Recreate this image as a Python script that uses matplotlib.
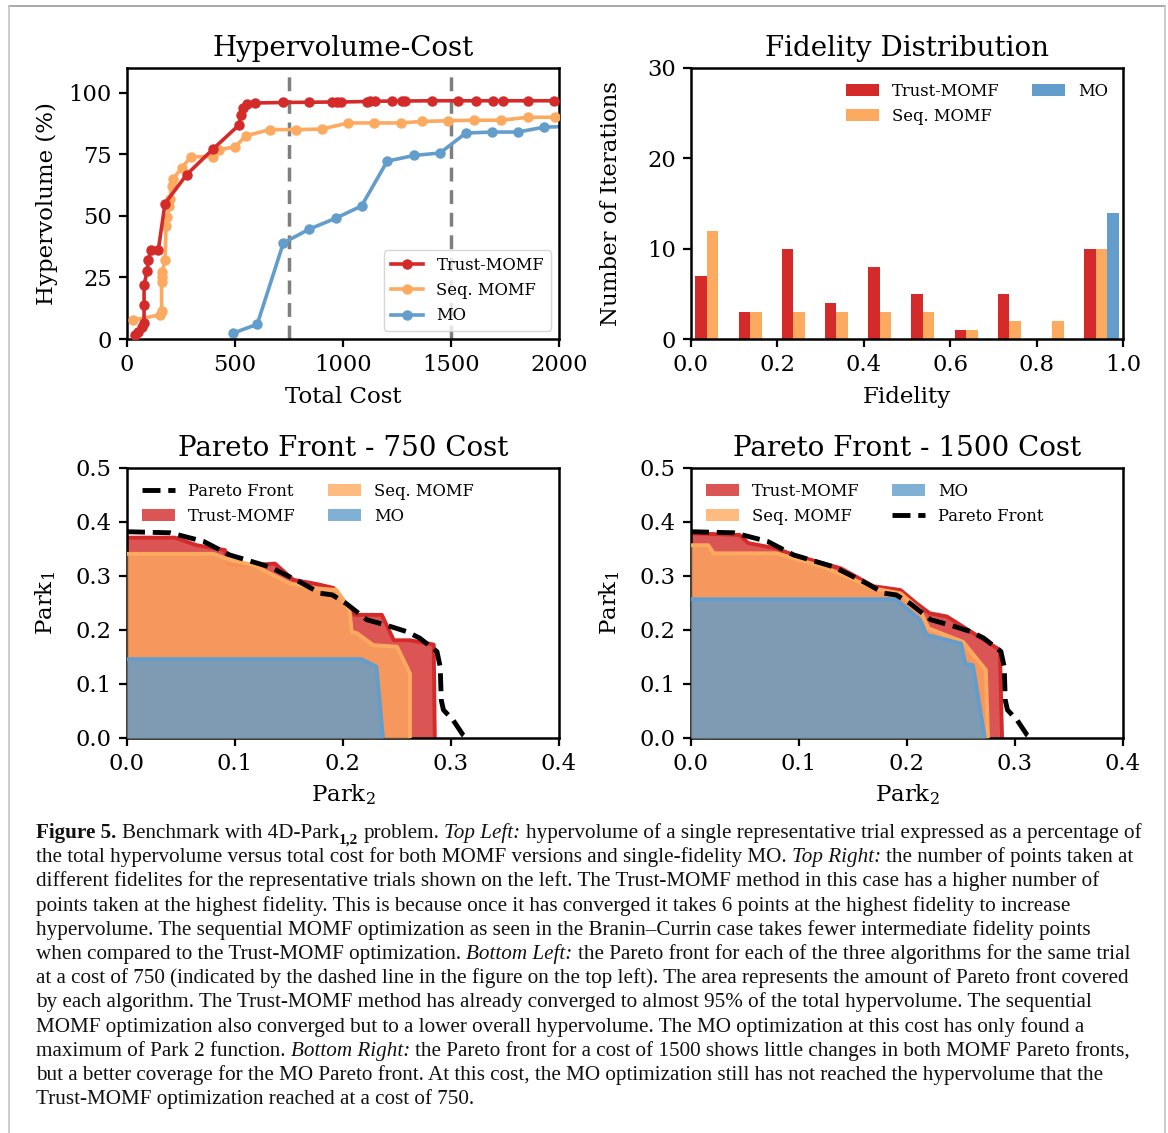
import matplotlib
matplotlib.use('Agg')
import matplotlib.pyplot as plt
from matplotlib.lines import Line2D
import numpy as np

plt.rcParams['font.family'] = 'DejaVu Serif'
plt.rcParams['mathtext.fontset'] = 'dejavuserif'

# ---------------- data ----------------
RED = '#d42a2a'
ORANGE = '#fdaa61'
BLUE = '#629dcb'

trust_cost = [37, 52, 68, 79, 79, 79, 94, 99, 110, 145, 176, 276, 397, 520, 526, 536, 554, 593,
              724, 844, 948, 971, 989, 1109, 1125, 1148, 1225, 1272, 1287, 1414, 1534, 1616,
              1693, 1739, 1858, 1977]
trust_hv = [1.6, 3.0, 5.0, 6.5, 13.8, 22.0, 27.8, 32.0, 36.0, 36.2, 55.0, 66.7, 77.0, 87.0, 91.0,
            93.8, 95.5, 95.8, 96.0, 96.1, 96.2, 96.2, 96.2, 96.4, 96.5, 96.5, 96.6, 96.6, 96.6,
            96.7, 96.7, 96.7, 96.7, 96.7, 96.7, 96.7]

seq_cost = [29, 153, 160, 160, 160, 163, 176, 181, 187, 194, 199, 207, 214, 253, 296, 397, 427,
            500, 551, 662, 783, 901, 1025, 1145, 1267, 1364, 1488, 1608, 1731, 1858, 1981]
seq_hv = [7.7, 9.8, 11.5, 23.3, 25.0, 27.0, 32.0, 46.0, 49.7, 53.8, 57.0, 62.0, 65.0, 69.4, 74.0,
          74.0, 76.8, 78.0, 82.5, 85.0, 85.0, 85.2, 87.7, 87.7, 87.7, 88.3, 88.6, 88.8, 88.8,
          90.0, 90.0]

mo_cost = [489, 603, 724, 844, 966, 1086, 1205, 1329, 1449, 1569, 1690, 1810, 1931, 2052]
mo_hv = [2.3, 6.0, 39.0, 44.6, 49.0, 54.0, 72.2, 74.5, 75.5, 83.6, 84.0, 84.0, 86.0, 86.3]

cost_marks = [750, 1500]

fid_bins = [0.0, 0.1, 0.2, 0.3, 0.4, 0.5, 0.6, 0.7, 0.8, 0.9, 1.0]
fid_trust = [7, 3, 10, 4, 8, 5, 1, 5, 0, 10]
fid_seq = [12, 3, 3, 3, 3, 3, 1, 2, 2, 10]
fid_mo = [0, 0, 0, 0, 0, 0, 0, 0, 0, 14]

pf_x = [0.0, 0.04, 0.071, 0.095, 0.132, 0.16, 0.179, 0.19, 0.203, 0.222, 0.24, 0.259, 0.271,
        0.287, 0.29, 0.291, 0.293, 0.302, 0.311, 0.315]
pf_y = [0.382, 0.38, 0.364, 0.339, 0.317, 0.289, 0.268, 0.265, 0.249, 0.219, 0.209, 0.197,
        0.185, 0.16, 0.132, 0.07, 0.052, 0.033, 0.006, 0.0]

# Pareto fronts at cost 750
t750_x = [0.0, 0.0444, 0.0645, 0.0907, 0.093, 0.117, 0.137, 0.154, 0.176, 0.191, 0.200, 0.211,
          0.236, 0.247, 0.262, 0.284, 0.285]
t750_y = [0.371, 0.371, 0.357, 0.348, 0.322, 0.320, 0.323, 0.293, 0.285, 0.278, 0.256, 0.228,
          0.228, 0.181, 0.181, 0.173, 0.0]
s750_x = [0.0, 0.080, 0.095, 0.117, 0.132, 0.151, 0.176, 0.194, 0.206, 0.208, 0.213, 0.228,
          0.250, 0.262, 0.262]
s750_y = [0.341, 0.341, 0.330, 0.320, 0.305, 0.286, 0.277, 0.274, 0.237, 0.197, 0.194, 0.172,
          0.169, 0.120, 0.0]
m750_x = [0.0, 0.217, 0.231, 0.237]
m750_y = [0.146, 0.146, 0.132, 0.0]

# Pareto fronts at cost 1500
t1500_x = [0.0, 0.045, 0.053, 0.079, 0.095, 0.139, 0.169, 0.194, 0.209, 0.221, 0.237, 0.252,
           0.286, 0.288]
t1500_y = [0.379, 0.376, 0.361, 0.351, 0.339, 0.314, 0.281, 0.274, 0.249, 0.231, 0.225, 0.206,
           0.163, 0.0]
s1500_x = [0.0, 0.016, 0.021, 0.079, 0.100, 0.122, 0.144, 0.169, 0.194, 0.212, 0.220, 0.252,
           0.258, 0.273, 0.275]
s1500_y = [0.357, 0.357, 0.342, 0.342, 0.330, 0.317, 0.299, 0.277, 0.268, 0.237, 0.203, 0.178,
           0.163, 0.126, 0.0]
m1500_x = [0.0, 0.190, 0.212, 0.218, 0.250, 0.254, 0.261, 0.272]
m1500_y = [0.257, 0.257, 0.219, 0.191, 0.175, 0.137, 0.135, 0.0]

caption_lines = [
    [("Figure 5.", 'b'), (" Benchmark with 4D-Park", 'n'), ("1,2", 's'), (" problem.", 'n'),
     (" Top Left:", 'i'),
     (" hypervolume of a single representative trial expressed as a percentage of", 'n')],
    [("the total hypervolume versus total cost for both MOMF versions and single-fidelity MO.", 'n'),
     (" Top Right:", 'i'), (" the number of points taken at", 'n')],
    [("different fidelites for the representative trials shown on the left. The Trust-MOMF method in this case has a higher number of", 'n')],
    [("points taken at the highest fidelity. This is because once it has converged it takes 6 points at the highest fidelity to increase", 'n')],
    [("hypervolume. The sequential MOMF optimization as seen in the Branin\u2013Currin case takes fewer intermediate fidelity points", 'n')],
    [("when compared to the Trust-MOMF optimization.", 'n'), (" Bottom Left:", 'i'),
     (" the Pareto front for each of the three algorithms for the same trial", 'n')],
    [("at a cost of 750 (indicated by the dashed line in the figure on the top left). The area represents the amount of Pareto front covered", 'n')],
    [("by each algorithm. The Trust-MOMF method has already converged to almost 95% of the total hypervolume. The sequential", 'n')],
    [("MOMF optimization also converged but to a lower overall hypervolume. The MO optimization at this cost has only found a", 'n')],
    [("maximum of Park 2 function.", 'n'), (" Bottom Right:", 'i'),
     (" the Pareto front for a cost of 1500 shows little changes in both MOMF Pareto fronts,", 'n')],
    [("but a better coverage for the MO Pareto front. At this cost, the MO optimization still has not reached the hypervolume that the", 'n')],
    [("Trust-MOMF optimization reached at a cost of 750.", 'n')],
]

# ---------------- figure ----------------
W, H, DPI = 1168, 1133, 100
fig = plt.figure(figsize=(W / DPI, H / DPI), dpi=DPI)


def ax_at(l, t, r, b):
    return fig.add_axes([l / W, 1 - b / H, (r - l) / W, (b - t) / H])


ax1 = ax_at(127, 68, 559, 339)
ax2 = ax_at(691, 68, 1123, 339)
ax3 = ax_at(127, 468, 559, 738)
ax4 = ax_at(691, 468, 1123, 738)

TICK = 16.3
LABEL = 16.5
TITLE = 20
LEG = 11.8

for ax in (ax1, ax2, ax3, ax4):
    for s in ax.spines.values():
        s.set_linewidth(1.8)
    ax.tick_params(direction='out', length=6, width=1.6, labelsize=TICK, pad=5)

# --- top left ---
for c in cost_marks:
    ax1.axvline(c, color='#7f7f7f', ls='--', lw=2.5, dashes=(4, 2.5), zorder=1)
ax1.plot(trust_cost, trust_hv, '-o', color=RED, lw=2.6, ms=6.5, label='Trust-MOMF', zorder=4)
ax1.plot(seq_cost, seq_hv, '-o', color=ORANGE, lw=2.6, ms=6.5, label='Seq. MOMF', zorder=3)
ax1.plot(mo_cost, mo_hv, '-o', color=BLUE, lw=2.6, ms=6.5, label='MO', zorder=2)
ax1.set_xlim(0, 2000)
ax1.set_ylim(0, 110)
ax1.set_xticks([0, 500, 1000, 1500, 2000])
ax1.set_yticks([0, 25, 50, 75, 100])
ax1.set_xlabel('Total Cost', fontsize=LABEL, labelpad=7)
ax1.set_ylabel('Hypervolume (%)', fontsize=LABEL)
ax1.set_title('Hypervolume-Cost', fontsize=TITLE, pad=9)
ax1.legend(loc='lower right', fontsize=LEG)

# --- top right ---
edges = np.array(fid_bins)
bw = (edges[1] - edges[0]) * 0.8 / 3
left = edges[:-1] + (edges[1] - edges[0]) * 0.1
ax2.bar(left, fid_trust, width=bw, align='edge', color=RED, label='Trust-MOMF')
ax2.bar(left + bw, fid_seq, width=bw, align='edge', color=ORANGE, label='Seq. MOMF')
ax2.bar(left + 2 * bw, fid_mo, width=bw, align='edge', color=BLUE, label='MO')
ax2.set_xlim(0, 1)
ax2.set_ylim(0, 30)
ax2.set_xticks([0.0, 0.2, 0.4, 0.6, 0.8, 1.0])
ax2.set_yticks([0, 10, 20, 30])
ax2.set_xlabel('Fidelity', fontsize=LABEL, labelpad=7)
ax2.set_ylabel('Number of Iterations', fontsize=LABEL)
ax2.set_title('Fidelity Distribution', fontsize=TITLE, pad=9)
ax2.legend(loc='upper right', ncol=2, frameon=False, fontsize=LEG)


def pareto_panel(ax, tx, ty, sx, sy, mx, my, title):
    ht = ax.fill_between(tx, ty, 0, color=RED, alpha=0.8, lw=0, label='Trust-MOMF', zorder=1)
    ax.plot(tx, ty, color=RED, lw=2.8, zorder=2)
    hs = ax.fill_between(sx, sy, 0, color=ORANGE, alpha=0.8, lw=0, label='Seq. MOMF', zorder=3)
    ax.plot(sx, sy, color=ORANGE, lw=2.8, zorder=4)
    hm = ax.fill_between(mx, my, 0, color=BLUE, alpha=0.8, lw=0, label='MO', zorder=5)
    ax.plot(mx, my, color=BLUE, lw=2.8, zorder=6)
    hp, = ax.plot(pf_x, pf_y, color='black', ls='--', lw=3.5, label='Pareto Front', zorder=7)
    ax.set_xlim(0, 0.4)
    ax.set_ylim(0, 0.5)
    ax.set_xticks([0.0, 0.1, 0.2, 0.3, 0.4])
    ax.set_yticks([0.0, 0.1, 0.2, 0.3, 0.4, 0.5])
    ax.set_xlabel('Park$_2$', fontsize=LABEL, labelpad=5)
    ax.set_ylabel('Park$_1$', fontsize=LABEL)
    ax.set_title(title, fontsize=TITLE, pad=9)
    return ht, hs, hm, hp


ht, hs, hm, hp = pareto_panel(ax3, t750_x, t750_y, s750_x, s750_y, m750_x, m750_y,
                              'Pareto Front - 750 Cost')
ax3.legend([hp, ht, hs, hm], ['Pareto Front', 'Trust-MOMF', 'Seq. MOMF', 'MO'],
           loc='upper left', ncol=2, frameon=False, fontsize=LEG)
ht, hs, hm, hp = pareto_panel(ax4, t1500_x, t1500_y, s1500_x, s1500_y, m1500_x, m1500_y,
                              'Pareto Front - 1500 Cost')
ax4.legend([ht, hs, hm, hp], ['Trust-MOMF', 'Seq. MOMF', 'MO', 'Pareto Front'],
           loc='upper left', ncol=2, frameon=False, fontsize=LEG)

for a in (ax1, ax2, ax3, ax4):
    a.yaxis.set_label_coords(-0.16, 0.5)

# --- page frame ---
fig.add_artist(Line2D([9 / W, 1165 / W], [1 - 6 / H, 1 - 6 / H], color='#9a9a9a', lw=1.2))
fig.add_artist(Line2D([9 / W, 9 / W], [0, 1 - 6 / H], color='#c4c4c4', lw=1.2))
fig.add_artist(Line2D([1165 / W, 1165 / W], [0, 1 - 6 / H], color='#c4c4c4', lw=1.2))

# --- caption ---
renderer = fig.canvas.get_renderer()
CAP_X0 = 36
CAP_Y0 = 838
CAP_DY = 24.2
CAP_FAMILY = 'Liberation Serif'


def seg_kw(st, fs):
    kw = dict(family=CAP_FAMILY, fontsize=fs, color='#111111')
    if st == 'b':
        kw['weight'] = 'bold'
    elif st == 'i':
        kw['style'] = 'italic'
    elif st == 's':
        kw['weight'] = 'bold'
        kw['fontsize'] = fs * 0.72
    return kw


def text_w(s, kw):
    t = fig.text(0, 0, s, **kw)
    w = t.get_window_extent(renderer).width
    t.remove()
    return w


def layout(fs, draw):
    widths = []
    for i, line in enumerate(caption_lines):
        x = CAP_X0
        y = CAP_Y0 + i * CAP_DY
        for seg, st in line:
            kw = seg_kw(st, fs)
            yy = y + (fs * 0.28 * DPI / 72 if st == 's' else 0)
            if seg.startswith(' '):
                x += text_w('x x', kw) - text_w('xx', kw)
                seg = seg[1:]
            t = fig.text(x / W, 1 - yy / H, seg, va='baseline', ha='left', **kw)
            x += t.get_window_extent(renderer).width
            if not draw:
                t.remove()
        widths.append(x - CAP_X0)
        if not draw and i == 0:
            break
    return widths


w0 = layout(12.0, False)[0]
cap_fs = 12.0 * 1101.0 / w0
layout(cap_fs, True)

fig.savefig('out.png', dpi=DPI)
